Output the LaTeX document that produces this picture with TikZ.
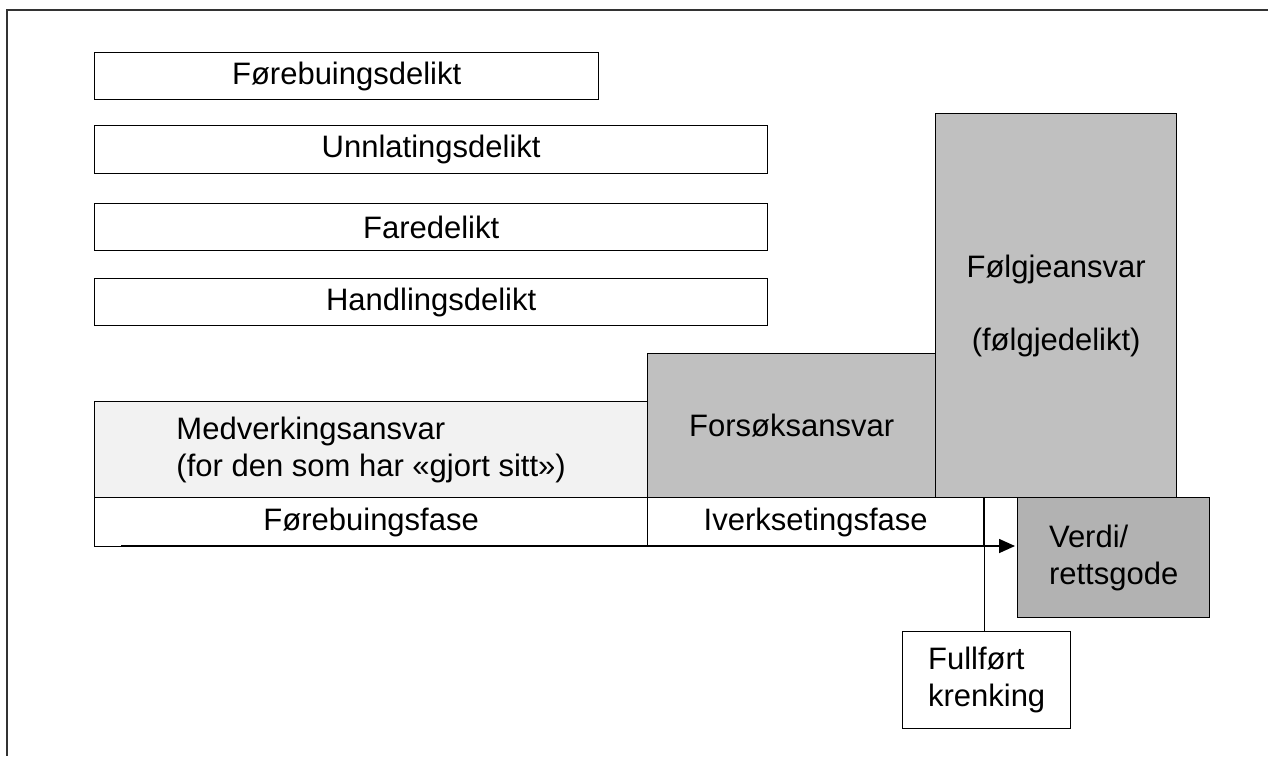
\documentclass[tikz,border=0pt]{standalone}
\usepackage{fontspec}
\setmainfont{Liberation Sans}
\usepackage{xcolor}
\usepackage{tikz}
\usetikzlibrary{arrows.meta,positioning}
\definecolor{lightfill}{RGB}{242,242,242}
\definecolor{midfill}{RGB}{192,192,192}
\definecolor{darkfill}{RGB}{178,178,178}
\newcommand{\diagfont}{\fontsize{31}{37}\selectfont}

\begin{document}
\begin{tikzpicture}[x=1pt,y=-1pt,>={Triangle[length=16pt,width=14pt]},
    box/.style={draw,line width=1.3pt,inner sep=0pt,anchor=north west,
      align=center,font=\diagfont},
    leftbox/.style={box,align=left}]
  \useasboundingbox (0,0) rectangle (1268,756);
  \draw[line width=2pt,black!80] (1268,10) -- (7,10) -- (7,756);

  \node[box,minimum width=504,minimum height=47] (fdelikt) at (94,52) {Førebuingsdelikt};
  \node[box,minimum width=673,minimum height=48] (unnl) at (94,125) {Unnlatingsdelikt};
  \node[box,minimum width=673,minimum height=47] (fare) at (94,203) {Faredelikt};
  \node[box,minimum width=673,minimum height=47] (handl) at (94,278) {Handlingsdelikt};

  \node[leftbox,fill=lightfill,minimum width=553,minimum height=96] (medv) at (94,401)
        {Medverkingsansvar\\(for den som har «gjort sitt»)};
  \node[box,fill=midfill,minimum width=288,minimum height=144] (forsok) at (647,353) {Forsøksansvar};
  \node[box,fill=midfill,minimum width=241,minimum height=384] (folgje) at (935,113)
        {Følgjeansvar\\[36pt](følgjedelikt)};

  \node[box,minimum width=553,minimum height=49] (fbfase) at (94,497) {Førebuingsfase};
  \node[box,minimum width=336,minimum height=49] (iverk) at (647,497) {Iverksetingsfase};
  \node[leftbox,fill=darkfill,minimum width=192,minimum height=120] (verdi) at (1017,497)
        {Verdi/\\rettsgode};
  \node[leftbox,minimum width=168,minimum height=97] (fullfort) at (902,631)
        {Fullført\\krenking};

  \coordinate (tidstart) at (121,546);
  \draw[->,line width=1.6pt] (tidstart) -- ([xshift=-2pt]tidstart -| verdi.west);
  \draw[line width=1pt] (iverk.north east) -- (iverk.north east |- fullfort.north);
\end{tikzpicture}
\end{document}
